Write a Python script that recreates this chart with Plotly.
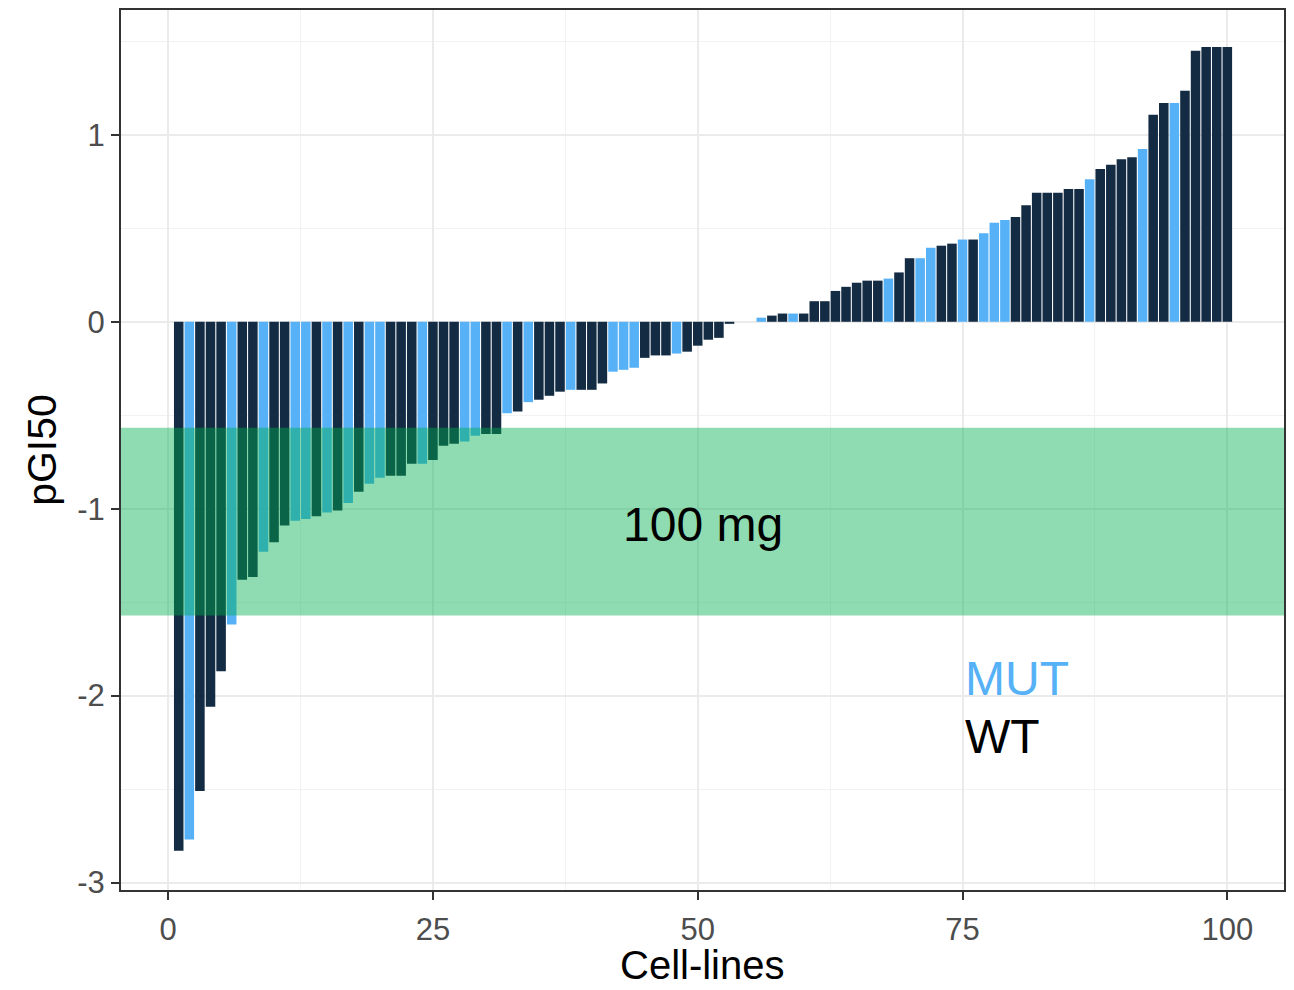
import plotly.graph_objects as go

# ---- data ----
cell_lines = list(range(1, 101))
pgi50 = [
    -2.83, -2.77, -2.51, -2.06, -1.87, -1.62, -1.38, -1.365, -1.23, -1.18,
    -1.09, -1.065, -1.055, -1.04, -1.02, -1.01, -0.97, -0.91, -0.866, -0.834,
    -0.824, -0.824, -0.76, -0.76, -0.74, -0.663, -0.652, -0.64, -0.61, -0.60,
    -0.60, -0.49, -0.48, -0.43, -0.417, -0.396, -0.374, -0.364, -0.364, -0.364,
    -0.33, -0.267, -0.257, -0.246, -0.193, -0.18, -0.18, -0.17, -0.16, -0.128,
    -0.096, -0.086, -0.011, 0.0, 0.0, 0.022, 0.033, 0.044, 0.044, 0.044,
    0.11, 0.11, 0.165, 0.187, 0.209, 0.22, 0.22, 0.231, 0.264, 0.34,
    0.34, 0.396, 0.407, 0.418, 0.44, 0.44, 0.473, 0.53, 0.545, 0.56,
    0.624, 0.69, 0.69, 0.69, 0.71, 0.71, 0.763, 0.817, 0.84, 0.87,
    0.88, 0.925, 1.107, 1.17, 1.17, 1.236, 1.45, 1.47, 1.47, 1.47,
]
status = [
    "WT", "MUT", "WT", "WT", "WT", "MUT", "WT", "WT", "MUT", "WT",
    "WT", "MUT", "MUT", "WT", "MUT", "WT", "MUT", "WT", "MUT", "MUT",
    "WT", "WT", "WT", "MUT", "WT", "WT", "WT", "MUT", "MUT", "WT",
    "WT", "MUT", "WT", "MUT", "WT", "WT", "WT", "MUT", "WT", "WT",
    "WT", "MUT", "MUT", "MUT", "WT", "WT", "WT", "MUT", "WT", "WT",
    "WT", "WT", "WT", "WT", "WT", "MUT", "WT", "WT", "MUT", "WT",
    "WT", "WT", "WT", "WT", "WT", "WT", "WT", "MUT", "WT", "WT",
    "MUT", "MUT", "WT", "WT", "MUT", "WT", "MUT", "MUT", "MUT", "WT",
    "WT", "WT", "WT", "WT", "WT", "WT", "MUT", "WT", "WT", "WT",
    "WT", "MUT", "WT", "WT", "MUT", "WT", "WT", "WT", "WT", "WT",
]
band_low, band_high = -1.572, -0.567
band_label = "100 mg"
x_title = "Cell-lines"
y_title = "pGI50"
x_ticks = [0, 25, 50, 75, 100]
y_ticks = [-3, -2, -1, 0, 1]
y_tick_labels = ["-3", "-2", "-1", "0", "1"]

colors = {"MUT": "#56B1F7", "WT": "#132B43"}
font_family = "Liberation Sans, Arial, sans-serif"

fig = go.Figure()
fig.add_trace(go.Bar(
    x=cell_lines, y=pgi50,
    marker=dict(color=[colors[s] for s in status], line=dict(width=0)),
    width=0.9, showlegend=False,
))

fig.add_shape(type="rect", xref="paper", yref="y", x0=0, x1=1,
              y0=band_low, y1=band_high,
              fillcolor="rgba(0,176,80,0.44)", line=dict(width=0), layer="above")

fig.add_annotation(x=50.5, y=-1.085, text=band_label, showarrow=False,
                   font=dict(size=48, color="black", family=font_family),
                   xanchor="center", yanchor="middle")
fig.add_annotation(x=75, y=-1.91, text="MUT", showarrow=False,
                   font=dict(size=48, color=colors["MUT"], family=font_family),
                   xanchor="left", yanchor="middle")
fig.add_annotation(x=75, y=-2.22, text="WT", showarrow=False,
                   font=dict(size=48, color="black", family=font_family),
                   xanchor="left", yanchor="middle")
# x-axis title placed as an annotation below the tick labels
fig.add_annotation(x=0.5, y=-0.1125, xref="paper", yref="paper", text=x_title,
                   showarrow=False, font=dict(size=40, color="black", family=font_family),
                   xanchor="center", yanchor="bottom")

axis_common = dict(
    showline=True, mirror=True, linecolor="#333333", linewidth=2,
    ticks="outside", ticklen=8, tickwidth=2, tickcolor="#333333",
    gridcolor="#EBEBEB", gridwidth=2, zeroline=False, automargin=False,
    tickfont=dict(size=31, color="#4D4D4D", family=font_family),
)
fig.update_xaxes(
    range=[-4.45, 105.35], tickvals=x_ticks, ticklabelstandoff=3,
    minor=dict(dtick=12.5, tick0=0, showgrid=True, gridcolor="#F2F2F2", gridwidth=1, ticks=""),
    **axis_common,
)
fig.update_yaxes(
    range=[-3.04, 1.668], tickvals=y_ticks, ticktext=y_tick_labels,
    minor=dict(dtick=0.5, tick0=0, showgrid=True, gridcolor="#F2F2F2", gridwidth=1, ticks=""),
    title=dict(text=y_title, font=dict(size=41, color="black", family=font_family), standoff=8),
    **axis_common,
)
fig.update_layout(
    width=1294, height=990,
    margin=dict(l=121, r=10, t=10, b=100),
    plot_bgcolor="white", paper_bgcolor="white",
    bargap=0.1,
)
fig.write_html(
    "out.html",
    config={"displayModeBar": False},
    post_script="document.body.style.margin='0';document.body.style.overflow='hidden';",
)
